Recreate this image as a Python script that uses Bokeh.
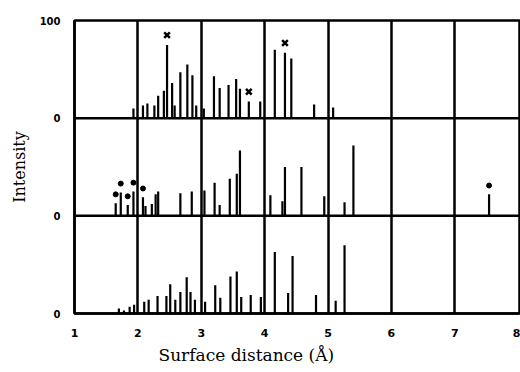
from bokeh.plotting import figure
from bokeh.models import FixedTicker, Span, Title
from bokeh.embed import file_html
from bokeh.resources import INLINE

# ---- data (surface distance in Å, intensity 0-100) ----
top_x = [1.93, 2.08, 2.15, 2.26, 2.32, 2.41, 2.46, 2.54, 2.58, 2.67, 2.78, 2.86, 2.92,
         3.04, 3.20, 3.29, 3.43, 3.55, 3.61, 3.75, 3.93, 4.16, 4.32, 4.42, 4.78, 5.08]
top_h = [10, 13, 15, 13, 23, 28, 75, 36, 13, 47, 55, 44, 13,
         10, 43, 31, 34, 40, 30, 17, 17, 70, 67, 61, 14, 11]
top_cross_x = [2.46, 3.75, 4.32]

mid_x = [1.65, 1.73, 1.84, 1.93, 2.08, 2.12, 2.22, 2.28, 2.32, 2.67, 2.85, 3.05, 3.21,
         3.29, 3.45, 3.56, 3.61, 4.09, 4.28, 4.32, 4.58, 4.94, 5.26, 5.40, 7.54]
mid_h = [13, 24, 11, 25, 19, 10, 12, 22, 25, 23, 25, 26, 34,
         11, 38, 43, 67, 21, 15, 50, 50, 20, 14, 72, 22]
mid_dot_x = [1.65, 1.73, 1.84, 1.93, 2.08, 7.54]

bot_x = [1.70, 1.78, 1.87, 1.94, 2.10, 2.17, 2.31, 2.45, 2.51, 2.59, 2.67, 2.77, 2.83, 2.90,
         3.06, 3.22, 3.30, 3.46, 3.56, 3.63, 3.78, 3.94, 4.16, 4.37, 4.44, 4.81, 5.12, 5.26]
bot_h = [5, 3, 7, 9, 12, 14, 18, 18, 30, 14, 22, 37, 22, 14,
         12, 29, 16, 38, 43, 17, 19, 17, 63, 21, 59, 19, 13, 70]

x_ticks = [1, 2, 3, 4, 5, 6, 7, 8]
panel_base = {"top": 200, "mid": 100, "bot": 0}
y_tick_labels = {0: "0", 100: "0", 200: "0", 300: "100"}

# ---- figure ----
p = figure(width=520, height=372, x_range=(1, 8.02), y_range=(0, 300),
           output_backend="svg", toolbar_location=None,
           min_border_left=74, min_border_right=1, min_border_top=20, min_border_bottom=59)
p.background_fill_color = "white"
p.border_fill_color = "white"
p.outline_line_color = "black"
p.outline_line_width = 2.5

# axes
p.xaxis.ticker = FixedTicker(ticks=x_ticks)
p.xaxis.major_tick_out = 0
p.xaxis.major_tick_in = 0
p.xaxis.minor_tick_out = 0
p.xaxis.minor_tick_in = 0
p.xaxis.axis_line_width = 2.5
p.xaxis.major_label_standoff = 15
p.xaxis.major_label_text_font = "DejaVu Sans"
p.xaxis.major_label_text_font_style = "bold"
p.xaxis.major_label_text_font_size = "11px"
p.xaxis.major_label_text_color = "black"

p.yaxis.ticker = FixedTicker(ticks=[0, 100, 200, 300])
p.yaxis.major_label_overrides = y_tick_labels
p.yaxis.major_tick_out = 0
p.yaxis.major_tick_in = 0
p.yaxis.minor_tick_out = 0
p.yaxis.minor_tick_in = 0
p.yaxis.axis_line_width = 2.5
p.yaxis.major_label_standoff = 14
p.yaxis.major_label_text_font = "DejaVu Sans"
p.yaxis.major_label_text_font_style = "bold"
p.yaxis.major_label_text_font_size = "10px"
p.yaxis.major_label_text_color = "black"
p.yaxis.axis_label = "Intensity"
p.yaxis.axis_label_text_font = "DejaVu Serif"
p.yaxis.axis_label_text_font_style = "normal"
p.yaxis.axis_label_text_font_size = "16px"
p.yaxis.axis_label_text_color = "black"
p.yaxis.axis_label_standoff = 8

# grid: vertical lines at integers
p.xgrid.ticker = FixedTicker(ticks=[2, 3, 4, 5, 6, 7])
p.xgrid.grid_line_color = "black"
p.xgrid.grid_line_width = 2.5
p.ygrid.visible = False

for yb in (100, 200):
    p.add_layout(Span(location=yb, dimension="width", line_color="black", line_width=2.5))

# sticks
def sticks(xs, hs, base):
    p.segment(x0=xs, y0=[base] * len(xs), x1=xs, y1=[base + h for h in hs],
              line_color="black", line_width=2.2)

sticks(top_x, top_h, panel_base["top"])
sticks(mid_x, mid_h, panel_base["mid"])
sticks(bot_x, bot_h, panel_base["bot"])

# markers above selected sticks
top_lookup = dict(zip(top_x, top_h))
mid_lookup = dict(zip(mid_x, mid_h))
p.scatter(x=top_cross_x, y=[panel_base["top"] + top_lookup[x] + 10 for x in top_cross_x],
          marker="x", size=8, line_color="black", line_width=2.5)
p.scatter(x=mid_dot_x, y=[panel_base["mid"] + mid_lookup[x] + 9 for x in mid_dot_x],
          marker="circle", size=5, fill_color="black", line_color="black")

# x axis title, placed as in the reference
p.add_layout(Title(text="Surface distance (Å)", align="left", offset=84,
                   text_font="DejaVu Serif", text_font_size="17px",
                   text_font_style="normal", text_color="black",
                   standoff=7), "below")

open("out.html", "w").write(file_html(p, INLINE))
